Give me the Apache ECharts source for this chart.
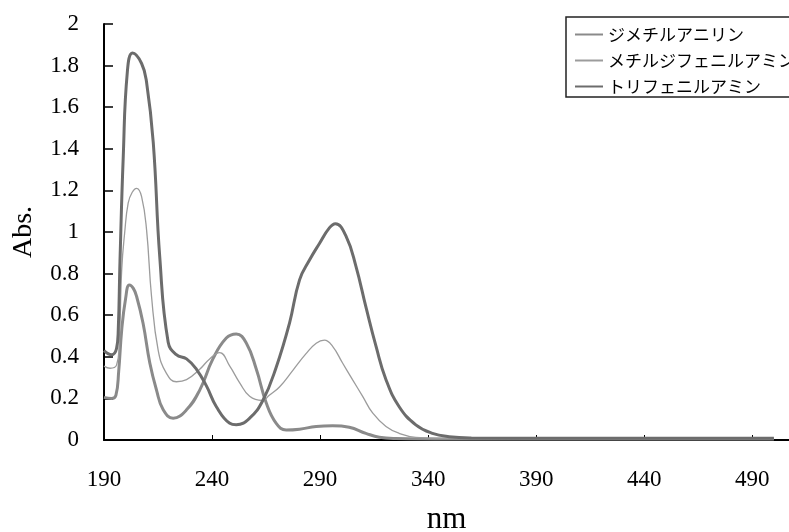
<!DOCTYPE html>
<html>
<head>
<meta charset="utf-8">
<script src="https://cdn.jsdelivr.net/npm/echarts@6/dist/echarts.min.js"></script>
<style>
  html, body { margin: 0; padding: 0; background: #fff; }
  #chart { width: 789px; height: 532px; }
</style>
</head>
<body>
<div id="chart"></div>
<script>
// wavelength (nm) / absorbance
const dmaNm = [190, 193.5, 195.5, 196.8, 198.2, 200, 201.7, 203.5, 205.1, 208.1, 211.2, 214.3, 217.4, 222, 228.2, 234.3, 240.4, 246.6, 251.2, 255.9, 260.5, 265.1, 269.7, 274.3, 280.5, 288.2, 295.8, 303.5, 311.2, 317.4, 325, 350, 400, 450, 500]
const dmaAbs = [0.205, 0.2, 0.215, 0.33, 0.53, 0.68, 0.745, 0.73, 0.69, 0.56, 0.37, 0.24, 0.145, 0.105, 0.145, 0.24, 0.39, 0.49, 0.51, 0.465, 0.34, 0.178, 0.08, 0.048, 0.052, 0.065, 0.068, 0.061, 0.032, 0.013, 0.007, 0.005, 0.005, 0.005, 0.005]

const mdpaNm = [190, 192.8, 195.8, 197, 198.2, 199.6, 201.2, 203, 205.1, 207.4, 209.7, 212, 215.1, 218.9, 223.5, 228.2, 234.3, 238.9, 243.5, 248.2, 252.8, 257.4, 263.2, 266.5, 271.2, 277.4, 283.5, 288.2, 292, 295.8, 300.4, 305, 309.7, 314.3, 320.5, 326.6, 334.3, 350, 400, 450, 500]
const mdpaAbs = [0.355, 0.345, 0.36, 0.45, 0.82, 1.0, 1.14, 1.19, 1.21, 1.17, 1.01, 0.69, 0.43, 0.32, 0.28, 0.29, 0.34, 0.39, 0.42, 0.355, 0.275, 0.21, 0.19, 0.215, 0.255, 0.335, 0.415, 0.465, 0.48, 0.45, 0.37, 0.29, 0.21, 0.13, 0.065, 0.032, 0.013, 0.008, 0.006, 0.006, 0.006]

const tpaNm = [190, 193.5, 195.8, 196.6, 197.4, 198.9, 200.8, 203.2, 207.4, 209.7, 212.8, 215.8, 219.7, 223.5, 228.2, 232.8, 237.4, 242, 248.2, 251.2, 257.4, 263.5, 269.7, 275.8, 280.5, 285.1, 289.7, 294.3, 297.1, 302, 306.6, 311.2, 315.9, 320.5, 326.6, 334.3, 342, 349.7, 360, 400, 450, 500]
const tpaAbs = [0.43, 0.41, 0.44, 0.53, 0.86, 1.36, 1.77, 1.86, 1.81, 1.72, 1.43, 0.88, 0.47, 0.41, 0.39, 0.34, 0.26, 0.16, 0.08, 0.073, 0.105, 0.19, 0.35, 0.56, 0.77, 0.865, 0.945, 1.02, 1.04, 0.98, 0.835, 0.64, 0.45, 0.29, 0.16, 0.073, 0.032, 0.016, 0.01, 0.008, 0.008, 0.008]

const xTicks = [190, 240, 290, 340, 390, 440, 490]
const seriesNames = ['ジメチルアニリン', 'メチルジフェニルアミン', 'トリフェニルアミン']

const zip = (xs, ys) => xs.map((x, i) => [x, ys[i]])

const serif = 'Liberation Serif, Times New Roman, serif'
const chart = echarts.init(document.getElementById('chart'))

const lineSeries = (name, data, color, width) => ({
  name,
  type: 'line',
  data,
  symbol: 'none',
  smooth: 0.45,
  lineStyle: { color, width },
  itemStyle: { color },
  emphasis: { disabled: true },
})

chart.setOption({
  animation: false,
  backgroundColor: '#fff',
  // keep the plot box fixed, labels may sit outside it
  grid: { left: 104, right: 0, top: 24, bottom: 92, outerBoundsMode: 'none' },
  legend: {
    orient: 'vertical',
    left: 569,
    top: 21,
    itemWidth: 28,
    itemHeight: 2,
    itemGap: 9,
    itemStyle: { opacity: 0 },
    textStyle: { fontFamily: 'Noto Sans CJK JP', fontSize: 17, color: '#000' },
    data: seriesNames,
  },
  graphic: [{
    type: 'rect',
    shape: { x: 566, y: 17, width: 226, height: 80 },
    style: { fill: 'none', stroke: '#222', lineWidth: 1.5 },
    z: 100,
  }],
  xAxis: {
    type: 'value',
    min: 190,
    max: 507,
    name: 'nm',
    nameLocation: 'middle',
    nameGap: 64,
    nameTextStyle: { fontFamily: serif, fontSize: 31, color: '#000' },
    axisLine: { lineStyle: { color: '#000', width: 2 } },
    axisTick: { inside: true, length: 5, customValues: xTicks, lineStyle: { color: '#000', width: 1 } },
    axisLabel: { customValues: xTicks, margin: 28, fontFamily: serif, fontSize: 23, color: '#000' },
    splitLine: { show: false },
  },
  yAxis: {
    type: 'value',
    min: 0,
    max: 2,
    interval: 0.2,
    name: 'Abs.',
    nameLocation: 'middle',
    nameGap: 66,
    nameTextStyle: { fontFamily: serif, fontSize: 28, color: '#000' },
    axisLine: { show: true, lineStyle: { color: '#000', width: 2 } },
    axisTick: { show: true, inside: true, length: 9, lineStyle: { color: '#000', width: 1.5 } },
    axisLabel: { margin: 25, fontFamily: serif, fontSize: 23, color: '#000' },
    splitLine: { show: false },
  },
  series: [
    lineSeries(seriesNames[0], zip(dmaNm, dmaAbs), '#8a8a8a', 3),
    lineSeries(seriesNames[1], zip(mdpaNm, mdpaAbs), '#9c9c9c', 1.3),
    lineSeries(seriesNames[2], zip(tpaNm, tpaAbs), '#6c6c6c', 3),
  ],
})
</script>
</body>
</html>
